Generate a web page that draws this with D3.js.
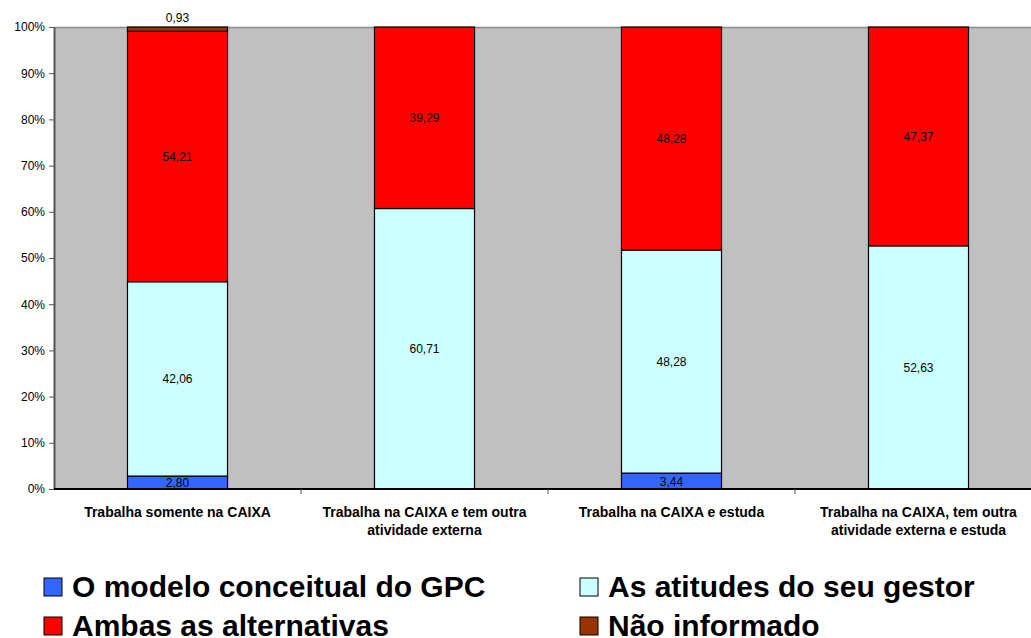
<!DOCTYPE html>
<html><head><meta charset="utf-8">
<script src="https://cdn.jsdelivr.net/npm/d3@7"></script>
<style>body{margin:0;background:#fff;} svg{display:block;} svg text{font-family:"Liberation Sans",Arial,sans-serif;}</style>
</head><body>
<svg id="c" width="1031" height="638"></svg>
<script>
const categories = [
  ["Trabalha somente na CAIXA"],
  ["Trabalha na CAIXA e tem outra", "atividade externa"],
  ["Trabalha na CAIXA e estuda"],
  ["Trabalha na CAIXA, tem outra", "atividade externa e estuda"]
];
const seriesNames = ["O modelo conceitual do GPC", "As atitudes do seu gestor", "Ambas as alternativas", "Não informado"];
const seriesColors = ["#3366FF", "#CCFFFF", "#FF0000", "#993300"];
const modelo = [2.80, 0, 3.44, 0];
const atitudes = [42.06, 60.71, 48.28, 52.63];
const ambas = [54.21, 39.29, 48.28, 47.37];
const naoInf = [0.93, 0, 0, 0];
const yTicks = [0, 10, 20, 30, 40, 50, 60, 70, 80, 90, 100];

const series = [modelo, atitudes, ambas, naoInf];
const svg = d3.select("#c");
const pL = 54, pR = 1042, pT = 27, pB = 489;
const x = d3.scaleBand().domain(d3.range(categories.length)).range([pL, pR]).paddingInner(0).paddingOuter(0);
const y = d3.scaleLinear().domain([0, 100]).range([pB, pT]);
const barW = x.bandwidth() * 0.405;
const fmt = v => v.toFixed(2).replace(".", ",");

svg.append("rect").attr("x", pL).attr("y", pT).attr("width", pR - pL).attr("height", pB - pT).attr("fill", "#C0C0C0");
svg.append("line").attr("x1", pL).attr("x2", pR).attr("y1", pT + 0.5).attr("y2", pT + 0.5).attr("stroke", "#8a8a8a").attr("stroke-width", 1.5);

// stacked bars
const stacked = categories.map((c, i) => {
  let acc = 0;
  return series.map((s, k) => { const y0 = acc; acc += s[i]; return {i, k, y0, y1: acc, v: s[i]}; });
});
const g = svg.append("g");
stacked.forEach(col => col.forEach(d => {
  if (d.v <= 0) return;
  const cx = x(d.i) + x.bandwidth() / 2;
  g.append("rect").attr("x", cx - barW / 2).attr("y", y(d.y1)).attr("width", barW)
    .attr("height", y(d.y0) - y(d.y1)).attr("fill", seriesColors[d.k]).attr("stroke", "#000").attr("stroke-width", 1.2);
}));
stacked.forEach(col => col.forEach(d => {
  if (d.v <= 0) return;
  const cx = x(d.i) + x.bandwidth() / 2;
  let ty = (y(d.y0) + y(d.y1)) / 2 + 4.5;
  if (d.k === 3) ty = y(d.y1) - 5;
  g.append("text").attr("x", cx).attr("y", ty).attr("text-anchor", "middle").attr("font-size", 12).attr("fill", "#000").text(fmt(d.v));
}));

// y axis
const yAxis = d3.axisLeft(y).tickValues(yTicks).tickFormat(d => d + "%").tickSize(5).tickSizeOuter(0);
const ya = svg.append("g").attr("transform", `translate(${pL},0)`).call(yAxis);
ya.attr("font-family", null);
ya.select(".domain").attr("stroke", "#555").attr("stroke-width", 2);
ya.selectAll(".tick line").attr("stroke", "#555");
ya.selectAll(".tick text").attr("font-size", 12).attr("fill", "#000").attr("x", -9);

// x axis baseline
svg.append("line").attr("x1", pL).attr("x2", pR).attr("y1", pB).attr("y2", pB).attr("stroke", "#000").attr("stroke-width", 2);
d3.range(1, categories.length).forEach(i => {
  svg.append("line").attr("x1", x(i)).attr("x2", x(i)).attr("y1", pB).attr("y2", pB + 5).attr("stroke", "#555");
});
categories.forEach((lines, i) => {
  const t = svg.append("text").attr("text-anchor", "middle").attr("font-size", 14).attr("font-weight", "bold").attr("fill", "#000");
  lines.forEach((l, j) => t.append("tspan").attr("x", x(i) + x.bandwidth() / 2).attr("y", 517 + j * 18).text(l));
});

// legend
const legPos = [[44, 597], [580, 597], [44, 636], [580, 636]];
legPos.forEach(([lx, ly], k) => {
  svg.append("rect").attr("x", lx).attr("y", ly - 19).attr("width", 18).attr("height", 18).attr("fill", seriesColors[k]).attr("stroke", "#000").attr("stroke-width", 1);
  svg.append("text").attr("x", lx + 28).attr("y", ly).attr("font-size", 30).attr("font-weight", "bold").attr("fill", "#000").text(seriesNames[k]);
});
</script>
</body></html>
